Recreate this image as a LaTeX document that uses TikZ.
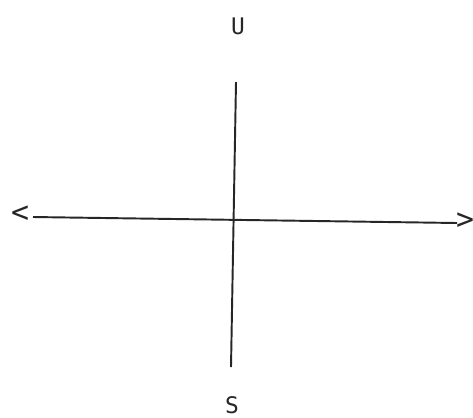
\documentclass[tikz,border=0pt]{standalone}
\usepackage{fontspec}
\newfontfamily\axisfont{DejaVu Sans Mono}
\begin{document}
\begin{tikzpicture}[x=0.02cm,y=-0.02cm,
  lbl/.style={font=\axisfont\fontsize{13}{15}\selectfont, text=black!85, inner sep=0pt},
  tip/.style={lbl, font=\axisfont\fontsize{17}{19}\selectfont},
  axis/.style={line width=1.1pt, draw=black!85}]
\useasboundingbox (0,0) rectangle (473,417);
\node[lbl] (up) at (238,26) {U};
\node[lbl] (down) at (232,405) {S};
\node[tip] (left) at (20,214) {<};
\node[tip] (right) at (465,221) {>};

\coordinate (vtop) at (236,82);
\coordinate (vbot) at (231,367);
\coordinate (hleft) at (33,217);
\coordinate (hright) at (457,223);
\draw[axis] (vtop) -- (vbot);
\draw[axis] (hleft) -- (hright);
\end{tikzpicture}
\end{document}
